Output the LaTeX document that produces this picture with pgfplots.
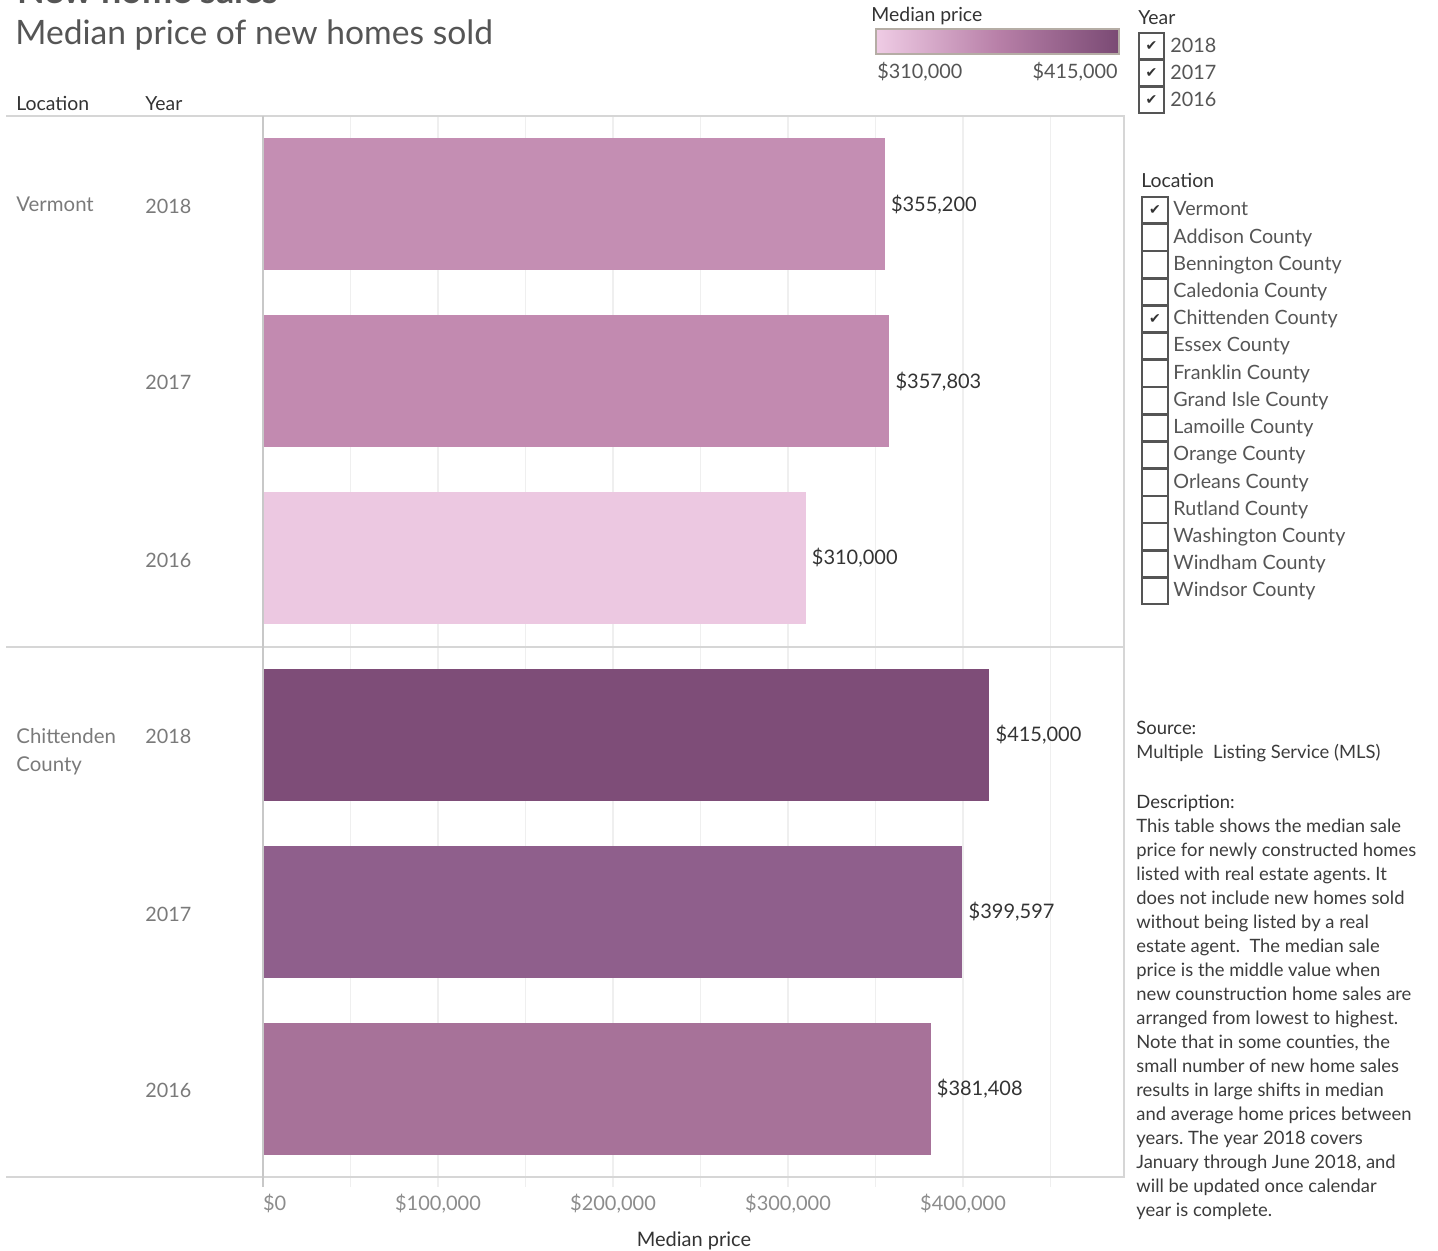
\documentclass[border=0pt]{standalone}
\usepackage{fontspec}
\setmainfont{Lato}
\newfontfamily\dejavu{DejaVu Sans}
\usepackage{pgfplots}
\pgfplotsset{compat=1.18}
\frenchspacing
\newcommand{\fs}[1]{\fontsize{#1bp}{#1bp}\selectfont}
\definecolor{cVa}{HTML}{C48EB3}
\definecolor{cVb}{HTML}{C28AB0}
\definecolor{cVc}{HTML}{ECC8E1}
\definecolor{cCa}{HTML}{7E4D78}
\definecolor{cCb}{HTML}{8F5F8C}
\definecolor{cCc}{HTML}{A77299}
\definecolor{titlec}{HTML}{555555}
\definecolor{headc}{HTML}{333333}
\definecolor{rowc}{HTML}{7A7A7A}
\definecolor{tickc}{HTML}{8C8C8C}
\definecolor{labc}{HTML}{333333}
\definecolor{itemc}{HTML}{555555}
\definecolor{descc}{HTML}{3C3C3C}
\definecolor{gridc}{HTML}{EFEFEF}
\definecolor{borderc}{HTML}{D6D6D6}
\definecolor{leftc}{HTML}{C8C8C8}
\definecolor{boxc}{HTML}{555555}
\definecolor{gL}{HTML}{EFCCE5}
\definecolor{gM}{HTML}{B880A8}
\definecolor{gR}{HTML}{7A4A74}
\definecolor{legb}{HTML}{B5ADA5}
\begin{document}
\begin{tikzpicture}[x=0.5bp,y=-0.5bp]
\useasboundingbox (0,0) rectangle (1438,1251);
\begin{scope}
\clip (0,0) rectangle (1438,1251);
\node[anchor=base west, inner sep=0, text=titlec] at (17,4) {\fs{18}\bfseries New home sales};
\end{scope}
\node[anchor=base west, inner sep=0, text=titlec] at (15,45) {\fs{16.8}Median price of new homes sold};
\node[anchor=base west, inner sep=0, text=headc] at (16,111) {\fs{9.7}Location};
\node[anchor=base west, inner sep=0, text=headc] at (145,111) {\fs{9.7}Year};

\begin{axis}[
  at={(131.5bp,-588.5bp)}, anchor=south west,
  width=430.5bp, height=530.5bp, scale only axis,
  xbar, bar width=66bp, bar shift=0pt,
  xmin=0, xmax=492000, ymin=-0.5, ymax=5.5, y dir=reverse,
  ytick=\empty, scaled x ticks=false,
  xtick={0,50000,100000,150000,200000,250000,300000,350000,400000,450000},
  xticklabels={{\makebox[0pt][l]{\$0}},{},{\$100,000},{},{\$200,000},{},{\$300,000},{},{\$400,000},{}},
  xtick pos=lower,
  xmajorgrids, grid style={draw=gridc, line width=0.6bp},
  tick align=outside, major tick length=5bp, tick style={draw=gridc, line width=0.6bp},
  axis line style={draw=none},
  xticklabel style={font=\fs{10}, text=tickc},
  nodes near coords, point meta=explicit symbolic,
  every node near coord/.append style={font=\fs{10}, text=labc, anchor=west, inner sep=3bp},
  clip=false,
]
\addplot[fill=cVa, draw=none] coordinates {(355200,0) [\$355{,}200]};
\addplot[fill=cVb, draw=none] coordinates {(357803,1) [\$357{,}803]};
\addplot[fill=cVc, draw=none] coordinates {(310000,2) [\$310{,}000]};
\addplot[fill=cCa, draw=none] coordinates {(415000,3) [\$415{,}000]};
\addplot[fill=cCb, draw=none] coordinates {(399597,4) [\$399{,}597]};
\addplot[fill=cCc, draw=none] coordinates {(381408,5) [\$381{,}408]};
\end{axis}

\draw[borderc, line width=1bp] (6,116) -- (1124,116) -- (1124,1177) -- (6,1177);
\draw[borderc, line width=1bp] (6,647) -- (1124,647);
\draw[leftc, line width=0.8bp] (263,116) -- (263,1187);

\node[anchor=base, inner sep=0, text=headc] at (694,1246) {\fs{10}Median price};

% row labels
\node[anchor=base west, inner sep=0, text=rowc] at (16,212) {\fs{10.2}Vermont};
\node[anchor=base west, inner sep=0, text=rowc] at (16,743) {\fs{10.2}Chittenden};
\node[anchor=base west, inner sep=0, text=rowc] at (16,771) {\fs{10.2}County};
\foreach \yy/\tt in {214/2018,390/2017,567/2016,743/2018,921/2017,1097/2016}
  \node[anchor=base west, inner sep=0, text=rowc] at (145,\yy) {\fs{9.9}\tt};

% colour legend
\node[anchor=base west, inner sep=0, text=headc] at (871,22) {\fs{9.7}Median price};
\shade[left color=gL, right color=gR, middle color=gM] (876,29) rectangle (1119,54);
\draw[legb, line width=1bp] (876,29) rectangle (1119,54);
\node[anchor=base west, inner sep=0, text=itemc] at (877,79) {\fs{9.9}\$310,000};
\node[anchor=base east, inner sep=0, text=itemc] at (1118,79) {\fs{9.9}\$415,000};

% year filter
\node[anchor=base west, inner sep=0, text=headc] at (1138,25) {\fs{9.7}Year};
\foreach \k/\yr in {0/2018,1/2017,2/2016}{
  \pgfmathsetmacro{\yt}{33+27*\k}
  \draw[boxc, line width=1bp] (1139,\yt) rectangle (1164,\yt+26);
  \node[text=headc, inner sep=0] at (1151.5,\yt+13) {\dejavu\fs{7}✔};
  \node[anchor=base west, inner sep=0, text=itemc] at (1170,\yt+19.5) {\fs{9.9}\yr};
}

% location filter
\node[anchor=base west, inner sep=0, text=headc] at (1141,188) {\fs{9.7}Location};
\foreach \nm [count=\k from 0] in {Vermont,Addison County,Bennington County,Caledonia County,Chittenden County,Essex County,Franklin County,Grand Isle County,Lamoille County,Orange County,Orleans County,Rutland County,Washington County,Windham County,Windsor County}{
  \pgfmathsetmacro{\yt}{197+27.2*\k}
  \draw[boxc, line width=1bp] (1142,\yt) rectangle (1168,\yt+26.5);
  \node[anchor=base west, inner sep=0, text=itemc] at (1173,\yt+19) {\fs{9.85}\nm};
}
\node[text=headc, inner sep=0] at (1155,210) {\dejavu\fs{7}✔};
\node[text=headc, inner sep=0] at (1155,318.8) {\dejavu\fs{7}✔};

% source and description
\node[anchor=base west, inner sep=0, text=headc] at (1136,734) {\fs{9.2}Source:};
\node[anchor=base west, inner sep=0, text=descc] at (1136,758) {\fs{9.2}Multiple\ \ Listing Service (MLS)};
\node[anchor=base west, inner sep=0, text=headc] at (1136,808) {\fs{9.2}Description:};
\foreach \ln [count=\k from 0] in {
  This table shows the median sale,
  price for newly constructed homes,
  listed with real estate agents. It,
  does not include new homes sold,
  without being listed by a real,
  estate agent.\ \ The median sale,
  price is the middle value when,
  new counstruction home sales are,
  arranged from lowest to highest.,
  {Note that in some counties{,} the},
  small number of new home sales,
  results in large shifts in median,
  and average home prices between,
  years. The year 2018 covers,
  {January through June 2018{,} and},
  will be updated once calendar,
  year is complete.}{
  \node[anchor=base west, inner sep=0, text=descc] at (1136,832+24*\k) {\fs{9.2}\ln};
}
\end{tikzpicture}
\end{document}
